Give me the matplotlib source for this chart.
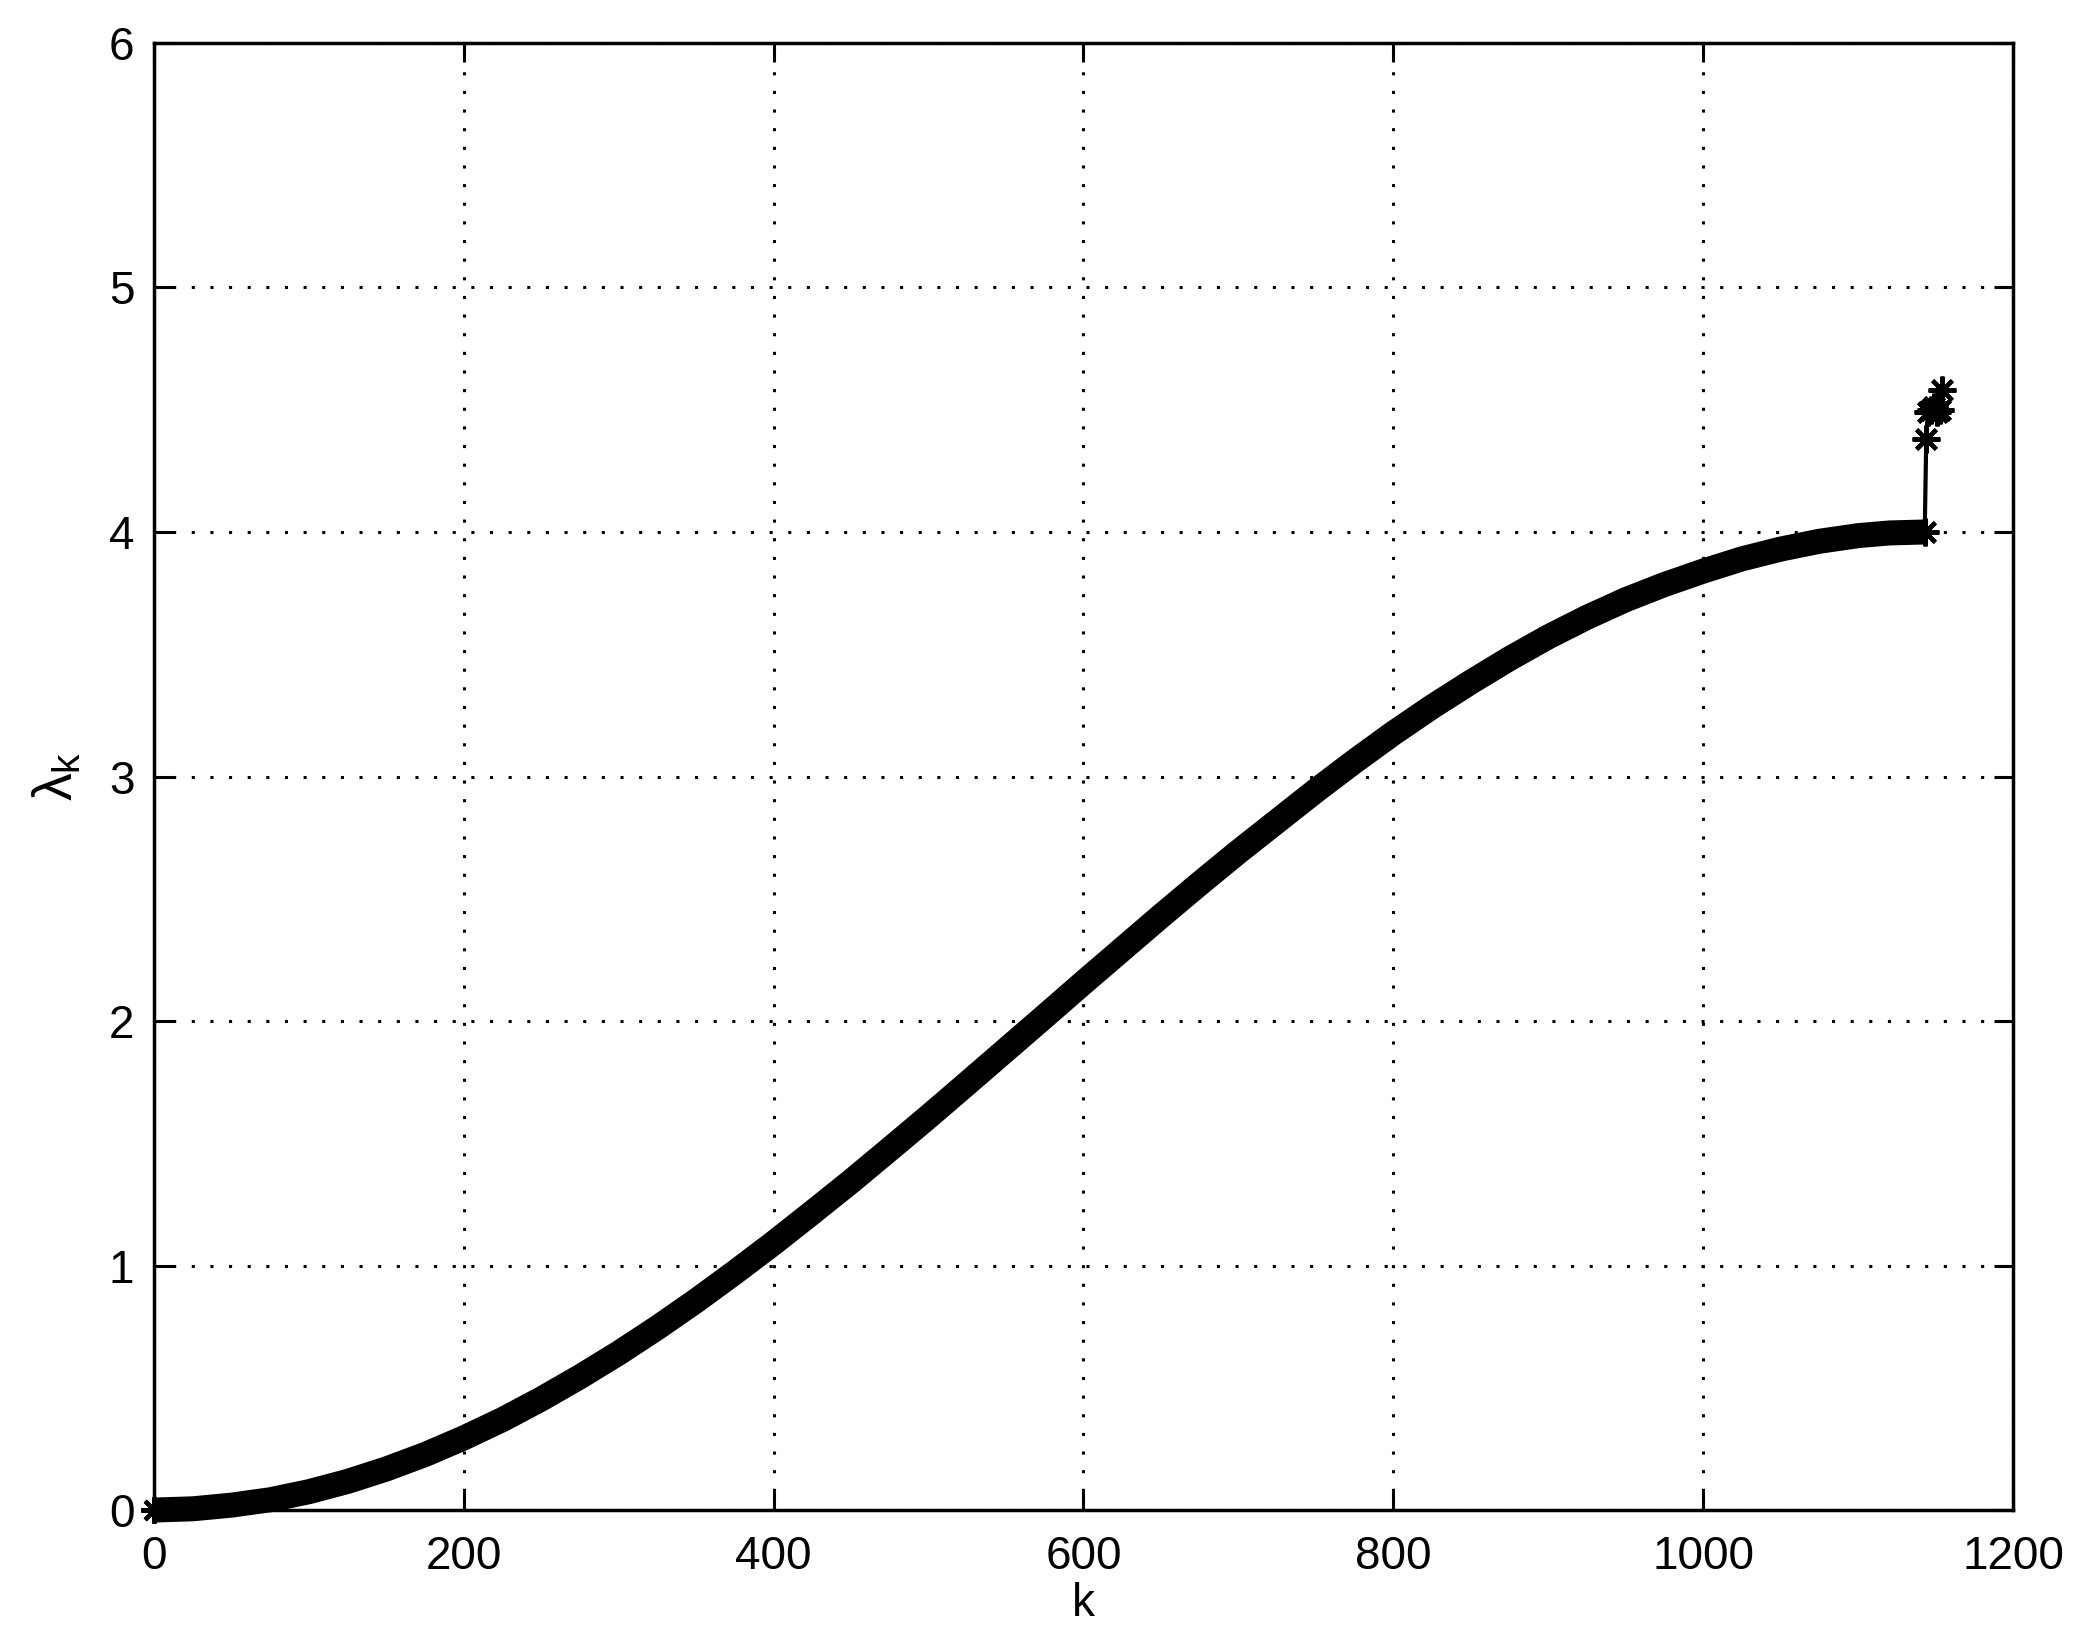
import matplotlib
matplotlib.use("Agg")
import matplotlib.pyplot as plt

plt.rcParams['font.family'] = ['Liberation Sans', 'DejaVu Sans']
plt.rcParams['mathtext.fontset'] = 'custom'
plt.rcParams['mathtext.rm'] = 'Liberation Sans'
plt.rcParams['mathtext.it'] = 'Liberation Sans'

# eigenvalues (main smooth part)
k_main = [0, 25, 50, 75, 100, 125, 150, 175, 200, 225, 250, 275, 300, 325,
          350, 375, 400, 425, 450, 475, 500, 525, 550, 575, 600, 625, 650,
          675, 700, 725, 750, 775, 800, 825, 850, 875, 900, 925, 950, 975,
          1000, 1025, 1050, 1075, 1100, 1120, 1143]
lam_main = [0.0, 0.005, 0.02, 0.042, 0.075, 0.117, 0.168, 0.227, 0.295,
            0.37, 0.454, 0.545, 0.642, 0.746, 0.856, 0.972, 1.092, 1.217,
            1.344, 1.476, 1.609, 1.745, 1.882, 2.019, 2.157, 2.293, 2.429,
            2.562, 2.692, 2.817, 2.942, 3.062, 3.177, 3.285, 3.386, 3.482,
            3.571, 3.651, 3.723, 3.785, 3.84, 3.89, 3.93, 3.962, 3.985,
            3.996, 4.0]

# the few outlying eigenvalues at the end
k_tail = [1143, 1144, 1145, 1147, 1149, 1151, 1153, 1154]
lam_tail = [4.0, 4.38, 4.49, 4.50, 4.51, 4.49, 4.50, 4.58]

x_ticks = [0, 200, 400, 600, 800, 1000, 1200]
y_ticks = [0, 1, 2, 3, 4, 5, 6]

asterisk = (8, 2, 0)

fig = plt.figure(figsize=(20.83, 16.46), dpi=100)
ax = fig.add_axes([0.0739, 0.0826, 0.8925, 0.8913])

# dense markers make a thick band in the original
ax.plot(k_main, lam_main, color='black', linewidth=18, solid_capstyle='butt',
        solid_joinstyle='round', zorder=3, clip_on=False)
ax.plot([k_main[0], k_main[-1]], [lam_main[0], lam_main[-1]], linestyle='none',
        marker=asterisk, markersize=19, markeredgewidth=3, color='black',
        zorder=3, clip_on=False)
ax.plot(k_tail, lam_tail, color='black', linewidth=3, marker=asterisk,
        markersize=20, markeredgewidth=3, zorder=4)

ax.set_xlim(0, 1200)
ax.set_ylim(0, 6)
ax.set_xticks(x_ticks)
ax.set_yticks(y_ticks)
ax.tick_params(direction='in', length=14, width=2.2, labelsize=33,
               top=True, right=True, pad=14)
ax.tick_params(axis='x', pad=18)

for s in ax.spines.values():
    s.set_linewidth(2.5)

ax.grid(True, color='black', linestyle=(0, (1, 5.1)), linewidth=2.2)
ax.set_axisbelow(False)

ax.set_xlabel('k', fontsize=33, labelpad=2)
ax.set_ylabel(r'$\lambda_{\mathrm{k}}$', fontsize=40, labelpad=18)

fig.savefig('out.png', dpi=100)
